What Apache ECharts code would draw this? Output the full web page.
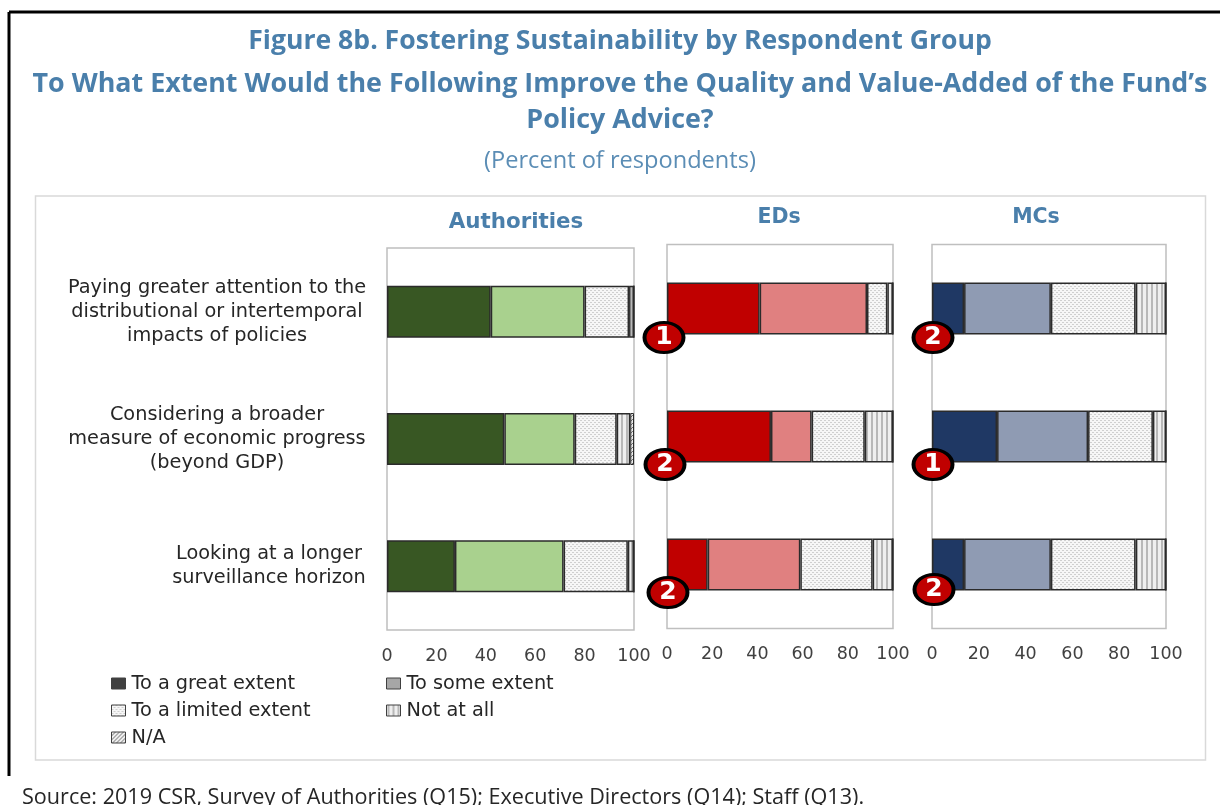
<!DOCTYPE html>
<html><head><meta charset="utf-8">
<style>html,body{margin:0;padding:0;background:#fff;overflow:hidden}#c{width:1220px;height:805px}</style>
<script src="https://cdn.jsdelivr.net/npm/echarts@6/dist/echarts.min.js"></script>
</head><body><div id="c"></div>
<script>
const categories = [
  "Paying greater attention to the\ndistributional or intertemporal\nimpacts of policies",
  "Considering a broader\nmeasure of economic progress\n(beyond GDP)",
  "Looking at a longer\nsurveillance horizon"
];
const responseNames = ["To a great extent","To some extent","To a limited extent","Not at all","N/A"];
const xTicks = ["0","20","40","60","80","100"];

const authGreat   = [42, 47.5, 27.5];
const authSome    = [38, 28.5, 44];
const authLimited = [18, 17, 26];
const authNot     = [2, 5.5, 2.5];
const authNA      = [0, 1.5, 0];

const edsGreat    = [41, 46, 18];
const edsSome     = [47.5, 18, 41];
const edsLimited  = [9, 23.5, 32];
const edsNot      = [2.5, 12.5, 9];
const edsNA       = [0, 0, 0];

const mcsGreat    = [13.7, 27.8, 13.7];
const mcsSome     = [37.1, 38.9, 37.1];
const mcsLimited  = [36.2, 27.7, 36.2];
const mcsNot      = [13, 5.6, 13];
const mcsNA       = [0, 0, 0];

const edsRanks = [1, 2, 2];
const mcsRanks = [2, 1, 2];

function pattern(kind){
  const c = document.createElement('canvas');
  const x = c.getContext('2d');
  if(kind==='dots'){
    c.width=4;c.height=4;x.fillStyle='#f6f6f6';x.fillRect(0,0,4,4);
    x.fillStyle='#cfcfcf';x.fillRect(0,0,1,1);x.fillRect(2,2,1,1);x.fillRect(1,0,1,1);x.fillRect(3,2,1,1);
  }else if(kind==='stripes'){
    c.width=5;c.height=4;x.fillStyle='#efefef';x.fillRect(0,0,5,4);
    x.fillStyle='#b8b8b8';x.fillRect(1,0,2,4);
  }else{
    c.width=4;c.height=4;x.fillStyle='#eeeeee';x.fillRect(0,0,4,4);
    x.strokeStyle='#777';x.lineWidth=1;x.beginPath();x.moveTo(0,4);x.lineTo(4,0);x.stroke();
  }
  return {image:c,repeat:'repeat'};
}
const pDots=pattern('dots'),pStripes=pattern('stripes'),pDiag=pattern('diag');

const FONT='"Open Sans"';
const WIDE='"DejaVu Sans"';
const TITLE='#4a7fab';
const panels=[
 {name:'Authorities',left:387,top:248,width:247,height:382,titleX:516,titleY:222,titleSize:21.4,
  colors:['#385723','#a9d18e'],data:[authGreat,authSome,authLimited,authNot,authNA],ranks:null},
 {name:'EDs',left:667,top:244.5,width:226,height:384,titleX:779,titleY:218,titleSize:20.5,
  colors:['#c00000','#e08080'],data:[edsGreat,edsSome,edsLimited,edsNot,edsNA],ranks:edsRanks,
  offs:[[-3,29],[-2,28],[1,28]]},
 {name:'MCs',left:932,top:244.5,width:234,height:384,titleX:1036,titleY:218,titleSize:20.5,
  colors:['#1f3864','#8f9bb3'],data:[mcsGreat,mcsSome,mcsLimited,mcsNot,mcsNA],ranks:mcsRanks,
  offs:[[1,29],[1,28],[2,25]]}
];

const grid=[],xAxis=[],yAxis=[],series=[];
panels.forEach((p,i)=>{
  grid.push({left:p.left,top:p.top,width:p.width,height:p.height,show:true,borderColor:'#bfbfbf',borderWidth:1.5,backgroundColor:'#fff',containLabel:false});
  xAxis.push({type:'value',gridIndex:i,min:0,max:100,interval:20,
    axisLine:{show:false},axisTick:{show:false},splitLine:{show:false},
    axisLabel:{show:true,margin:17,fontFamily:WIDE,fontSize:17.5,color:'#404040',hideOverlap:false,
      formatter:v=>xTicks[v/20]}});
  yAxis.push({type:'category',gridIndex:i,inverse:true,data:categories,
    axisLine:{show:false},axisTick:{show:false},splitLine:{show:false},
    axisLabel:i===0?{show:true,margin:20,align:'right',verticalAlign:'middle',interval:0,
      formatter:(v,idx)=>{const s=idx===2?'n':'w';return v.split('\n').map(l=>`{${s}|${l}}`).join('\n');},
      rich:{w:{width:300,align:'center',fontFamily:WIDE,fontSize:19.3,lineHeight:24,color:'#262626'},
            n:{width:196,align:'center',fontFamily:WIDE,fontSize:19.3,lineHeight:24,color:'#262626'}}
    }:{show:false}});
  const fills=[p.colors[0],p.colors[1],pDots,pStripes,pDiag];
  responseNames.forEach((n,k)=>{
    series.push({type:'bar',name:n,xAxisIndex:i,yAxisIndex:i,stack:p.name,barWidth:52,
      data:p.data[k],silent:true,
      itemStyle:{color:fills[k],borderColor:'#2b2b2b',borderWidth:k===4?1:1.5}});
  });
  if(p.ranks){
    series.push({type:'scatter',name:p.name+' rank',xAxisIndex:i,yAxisIndex:i,z:10,clip:false,silent:true,
      data:p.ranks.map((r,j)=>({value:[0,j],rank:r,symbolOffset:p.offs[j]})),
      symbol:'circle',symbolSize:[39,30],
      itemStyle:{color:'#c00000',opacity:1,borderColor:'#000',borderWidth:3.5},
      label:{show:true,position:'inside',formatter:d=>String(d.data.rank),color:'#fff',fontFamily:WIDE,fontWeight:'bold',fontSize:25,
        }
    });
  }
});

const legendPos=[[111,674],[386,674],[111,701],[386,701],[111,728]];
const legendFills=['#404040','#a6a6a6',pDots,pStripes,pDiag];
const legend=responseNames.map((n,k)=>({
  left:legendPos[k][0],top:legendPos[k][1],orient:'horizontal',selectedMode:false,
  itemWidth:14,itemHeight:11,itemGap:0,padding:0,icon:'rect',
  textStyle:{fontFamily:WIDE,fontSize:19.3,color:'#262626',padding:[0,0,0,1]},
  data:[{name:n,icon:'rect',itemStyle:{color:legendFills[k],borderColor:'#404040',borderWidth:1}}]
}));

const title=[
 {text:'Figure 8b. Fostering Sustainability by Respondent Group',x:620,y:41,s:26.6,w:'bold',c:TITLE,f:FONT},
 {text:'To What Extent Would the Following Improve the Quality and Value-Added of the Fund\u2019s',x:620,y:84,s:26.85,w:'bold',c:TITLE,f:FONT},
 {text:'Policy Advice?',x:620,y:120,s:26.85,w:'bold',c:TITLE,f:FONT},
 {text:'(Percent of respondents)',x:620,y:161,s:23.6,w:'normal',c:'#5b8db5',f:FONT},
 ...panels.map(p=>({text:p.name,x:p.titleX,y:p.titleY,s:p.titleSize,w:'bold',c:TITLE,f:WIDE}))
].map(t=>({text:t.text,left:t.x,top:t.y,textAlign:'center',textVerticalAlign:'middle',padding:0,
  textStyle:{fontFamily:t.f,fontSize:t.s,fontWeight:t.w,color:t.c}}));
title.push({text:'Source: 2019 CSR, Survey of Authorities (Q15); Executive Directors (Q14); Staff (Q13).',left:22,top:798,textVerticalAlign:'middle',padding:0,
  textStyle:{fontFamily:FONT,fontSize:21.6,fontWeight:'normal',color:'#262626'}});

const chart=echarts.init(document.getElementById('c'),null,{renderer:'canvas'});
chart.setOption({
  animation:false,backgroundColor:'#fff',tooltip:{show:false},
  title,legend,grid,xAxis,yAxis,series,
  graphic:[
    {type:'line',z:-1,shape:{x1:9,y1:12,x2:1220,y2:12},style:{stroke:'#000',lineWidth:3}},
    {type:'line',z:-1,shape:{x1:9,y1:12,x2:9,y2:776},style:{stroke:'#000',lineWidth:3}},
    {type:'rect',z:-1,shape:{x:35.5,y:196,width:1170,height:564},style:{fill:'none',stroke:'#d9d9d9',lineWidth:1.5}}
  ]
});
</script></body></html>
